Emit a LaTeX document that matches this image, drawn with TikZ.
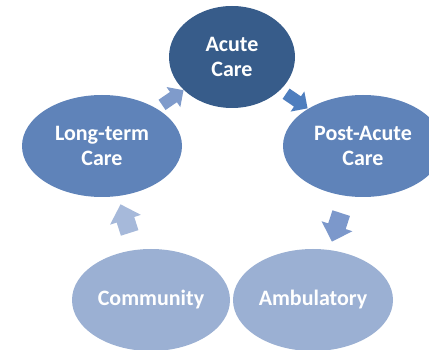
\documentclass[tikz,border=0pt]{standalone}
\usepackage{fontspec}
\setmainfont{Carlito}
\usetikzlibrary{shapes.geometric,shapes.arrows}

\definecolor{darkblue}{HTML}{375C8A}
\definecolor{midblue}{HTML}{5F83B9}
\definecolor{lightblue}{HTML}{9BB0D3}

\tikzset{
	bubble/.style={ellipse, minimum width=160pt, minimum height=102pt, inner sep=0pt,
		text=white, font=\bfseries\fontsize{22}{25}\selectfont, align=center},
	cycarrow/.style={single arrow, single arrow head extend=6pt, minimum height=26pt,
		inner sep=6pt, sloped, allow upside down}
}

\begin{document}
\begin{tikzpicture}[x=1pt,y=1pt]
		\path[use as bounding box] (0,0) rectangle (429,-350);
		\clip (0,0) rectangle (429,-350);
		%Ellipsen
		\node[bubble, fill=darkblue, minimum width=126pt] (acute) at (232,-57) {Acute\\Care};
		\node[bubble, fill=midblue] (ltc) at (102,-146) {Long-term\\Care};
		\node[bubble, fill=midblue] (pac) at (363,-146) {Post-Acute\\Care};
		\node[bubble, fill=lightblue, minimum width=158pt] (comm) at (151,-300) {Community};
		\node[bubble, fill=lightblue] (amb) at (313,-300) {Ambulatory};
		%Pfeile
		\path (ltc) -- node[cycarrow, fill={rgb,255:red,127;green,155;blue,203}] (a1) {} (acute);
		\path (acute) -- node[cycarrow, fill={rgb,255:red,78;green,126;blue,190}] (a2) {} (pac);
		\path (pac) -- node[cycarrow, fill={rgb,255:red,124;green,152;blue,203}, minimum height=30pt, inner sep=9pt, single arrow head extend=7pt] (a3) {} (amb);
		\path (comm) -- node[cycarrow, fill={rgb,255:red,166;green,185;blue,218}, minimum height=30pt, inner sep=9pt, single arrow head extend=7pt] (a4) {} (ltc);
	\end{tikzpicture}
\end{document}
